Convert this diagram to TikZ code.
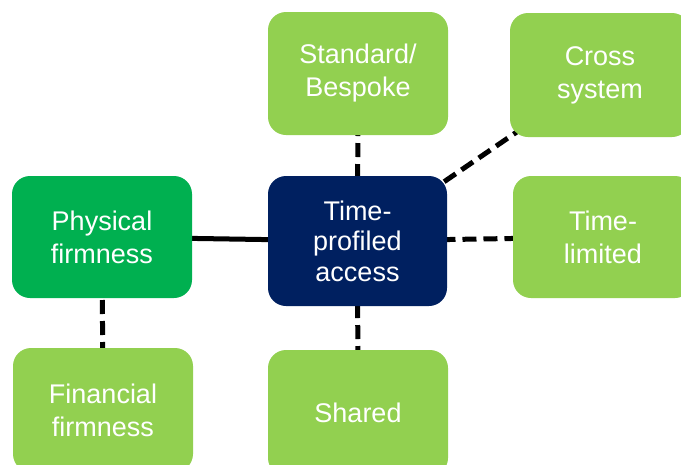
\documentclass[tikz,border=0pt]{standalone}
\usepackage{fontspec}
\setmainfont{Liberation Sans}
\usetikzlibrary{backgrounds}
\definecolor{leafgreen}{HTML}{92D050}
\definecolor{firmgreen}{HTML}{00B050}
\definecolor{accessnavy}{HTML}{002060}
\begin{document}
\begin{tikzpicture}[x=1pt,y=-1pt]
\tikzstyle{every node}+=[inner sep=0pt]
\tikzstyle{box}=[rounded corners=18pt, fill=leafgreen, text=white, align=center, minimum width=180pt, minimum height=123pt, font=\fontsize{27}{33}\selectfont]
\tikzstyle{firm}=[box, fill=firmgreen]
\tikzstyle{hub}=[box, fill=accessnavy, font=\fontsize{27}{30.5}\selectfont]
\tikzstyle{link}=[black, line width=5pt, dash pattern=on 14pt off 7pt]
\useasboundingbox (0,0) rectangle (681,464);
\clip (0,0) rectangle (681,464);
\node [hub, minimum width=179pt, minimum height=130pt] (access) at (357.5,241) {Time-\\profiled\\access};
\node [box] (stdbesp) at (358,73.5) {Standard/\\Bespoke};
\node [box, minimum height=124pt] (cross) at (600,75) {Cross\\system};
\node [box, minimum height=122pt] (timelim) at (603,237) {Time-\\limited};
\node [firm, minimum height=122pt] (physical) at (102,237) {Physical\\firmness};
\node [box, minimum height=124pt] (financial) at (103,410) {Financial\\firmness};
\node [box, minimum height=126pt] (shared) at (358,413) {Shared};
\begin{pgfonlayer}{background}
\draw [link] (access.center) -- (stdbesp.center);
\draw [link] (access.center) -- (cross.center);
\draw [link] (access.center) -- (timelim.center);
\draw [link] (access.center) -- (shared.center);
\draw [link] (physical.center) -- (financial.center);
\draw [black, line width=5pt] (physical.center) -- (access.center);
\end{pgfonlayer}
\end{tikzpicture}
\end{document}
